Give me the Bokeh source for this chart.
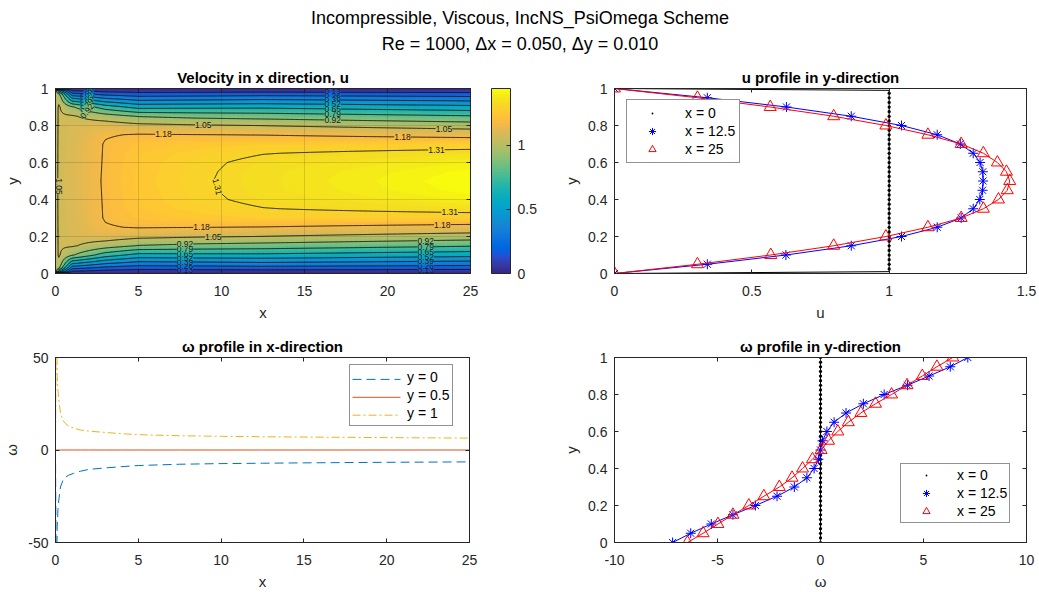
import numpy as np
from bokeh.plotting import figure
from bokeh.models import (Range1d, LinearAxis, FixedTicker, ColorBar, LinearColorMapper,
                          CustomJSTickFormatter, Legend, LegendItem)
from bokeh.layouts import column, row
from bokeh.embed import file_html
from bokeh.resources import INLINE
from bokeh.core.properties import value

# ---------------------------------------------------------------- texts
SUPTITLE_1 = "Incompressible, Viscous, IncNS_PsiOmega Scheme"
SUPTITLE_2 = "Re = 1000, \u0394x = 0.050, \u0394y = 0.010"

# ---------------------------------------------------------------- u profiles in y (top right)
y_prof = [0.00, 0.05, 0.10, 0.15, 0.20, 0.25, 0.30, 0.35, 0.40, 0.45, 0.50,
          0.55, 0.60, 0.65, 0.70, 0.75, 0.80, 0.85, 0.90, 0.95, 1.00]
u_x12 = [0.000, 0.338, 0.624, 0.862, 1.045, 1.175, 1.262, 1.306, 1.330, 1.340, 1.342,
         1.341, 1.331, 1.306, 1.259, 1.175, 1.045, 0.862, 0.626, 0.338, 0.000]
u_x25 = [0.000, 0.302, 0.569, 0.798, 0.988, 1.141, 1.262, 1.343, 1.398, 1.430, 1.439,
         1.427, 1.394, 1.343, 1.262, 1.141, 0.988, 0.798, 0.567, 0.302, 0.000]
# inlet profile x = 0 (uniform, zero on the walls)
u_x0_line = [0.0, 1.0, 1.0, 0.0]
y_x0_line = [0.00, 0.01, 0.99, 1.00]
y_x0_dots = [round(0.025 * k, 3) for k in range(41)]
u_x0_dots = [0.0] + [1.0] * 39 + [0.0]

# ---------------------------------------------------------------- omega profiles in y (bottom right)
w_x12 = [-7.18, -6.30, -5.30, -4.25, -3.16, -2.11, -1.27, -0.66, -0.31, -0.10, 0.00,
         0.10, 0.31, 0.66, 1.24, 2.08, 3.09, 4.22, 5.27, 6.30, 7.15]
w_x25 = [-6.46, -5.70, -4.98, -4.25, -3.48, -2.75, -2.00, -1.38, -0.87, -0.39, 0.03,
         0.39, 0.84, 1.35, 1.96, 2.67, 3.45, 4.20, 4.94, 5.65, 6.42]
w_x0_dots = [0.0] * 41
w_x0_line = [0.0, 0.0]
y_w0_line = [0.0, 1.0]

# ---------------------------------------------------------------- omega profiles in x (bottom left)
x_w = [0, 0.05, 0.1, 0.15, 0.2, 0.3, 0.45, 0.6, 0.8, 1.1, 1.5, 2, 3, 4, 5,
       7.5, 10, 12.5, 15, 20, 25]
w_y0 = [0, -90, -42, -32, -27, -20, -16.5, -14.7, -13.6, -12.6, -11.5, -10.5, -9.7,
        -9.0, -8.4, -7.7, -7.35, -7.15, -6.95, -6.65, -6.42]
w_y05 = [0] * 21
w_y1 = [0, 90, 40, 32, 27, 20, 16.0, 14.3, 12.9, 11.8, 10.8, 10.2, 9.5,
        8.8, 8.3, 7.7, 7.4, 7.15, 7.0, 6.7, 6.42]

# ---------------------------------------------------------------- u field stations (lower half, mirrored)
st_x = [0.0, 0.2, 1.0, 3.0, 5.0, 8.5]
st_y = [
    [0.0, 0.01, 0.5],
    [0.0, 0.01, 0.03, 0.05, 0.10, 0.5],
    [0.0, 0.01, 0.05, 0.10, 0.15, 0.20, 0.5],
    [0.0, 0.05, 0.10, 0.15, 0.20, 0.25, 0.30, 0.5],
    [0.0, 0.05, 0.10, 0.15, 0.20, 0.25, 0.30, 0.35, 0.40, 0.5],
    [0.0, 0.05, 0.10, 0.15, 0.20, 0.25, 0.30, 0.35, 0.40, 0.5],
]
st_u = [
    [0.0, 1.00, 1.00],
    [0.0, 0.60, 0.95, 1.01, 1.06, 1.07],
    [0.0, 0.11, 0.50, 0.93, 1.06, 1.09, 1.10],
    [0.0, 0.37, 0.72, 0.98, 1.11, 1.17, 1.185, 1.19],
    [0.0, 0.31, 0.61, 0.91, 1.08, 1.185, 1.22, 1.235, 1.24, 1.245],
    [0.0, 0.32, 0.62, 0.88, 1.06, 1.18, 1.245, 1.275, 1.29, 1.298],
]
u_levels = [0.1309, 0.2618, 0.3927, 0.5236, 0.6545, 0.7854, 0.9163, 1.0472, 1.1781, 1.3090]
u_color_max = 1.44

# ---------------------------------------------------------------- styles
FONT = "Liberation Sans"
AX = "#262626"
C_BLUE, C_ORANGE, C_YELLOW = "#0072BD", "#D95319", "#EDB120"
PARULA_RGB = [
    (0.2081, 0.1663, 0.5292), (0.2116, 0.1898, 0.5777), (0.2123, 0.2138, 0.6270), (0.2081, 0.2386, 0.6771),
    (0.1959, 0.2645, 0.7279), (0.1707, 0.2919, 0.7792), (0.1253, 0.3242, 0.8303), (0.0591, 0.3598, 0.8683),
    (0.0117, 0.3875, 0.8820), (0.0060, 0.4086, 0.8828), (0.0165, 0.4266, 0.8786), (0.0329, 0.4430, 0.8720),
    (0.0498, 0.4586, 0.8641), (0.0629, 0.4737, 0.8554), (0.0723, 0.4887, 0.8467), (0.0779, 0.5040, 0.8384),
    (0.0793, 0.5200, 0.8312), (0.0749, 0.5375, 0.8263), (0.0641, 0.5570, 0.8240), (0.0488, 0.5772, 0.8228),
    (0.0343, 0.5966, 0.8199), (0.0265, 0.6137, 0.8135), (0.0239, 0.6287, 0.8038), (0.0231, 0.6418, 0.7913),
    (0.0228, 0.6535, 0.7768), (0.0267, 0.6642, 0.7607), (0.0384, 0.6743, 0.7436), (0.0590, 0.6838, 0.7254),
    (0.0843, 0.6928, 0.7062), (0.1133, 0.7015, 0.6859), (0.1453, 0.7098, 0.6646), (0.1801, 0.7177, 0.6424),
    (0.2178, 0.7250, 0.6193), (0.2586, 0.7317, 0.5954), (0.3022, 0.7376, 0.5712), (0.3482, 0.7424, 0.5473),
    (0.3953, 0.7459, 0.5244), (0.4420, 0.7481, 0.5033), (0.4871, 0.7491, 0.4840), (0.5300, 0.7491, 0.4661),
    (0.5709, 0.7485, 0.4494), (0.6099, 0.7473, 0.4337), (0.6473, 0.7456, 0.4188), (0.6834, 0.7435, 0.4044),
    (0.7184, 0.7411, 0.3905), (0.7525, 0.7384, 0.3768), (0.7858, 0.7356, 0.3633), (0.8185, 0.7327, 0.3498),
    (0.8507, 0.7299, 0.3360), (0.8824, 0.7274, 0.3217), (0.9139, 0.7258, 0.3063), (0.9450, 0.7261, 0.2886),
    (0.9739, 0.7314, 0.2666), (0.9938, 0.7455, 0.2403), (0.9990, 0.7653, 0.2164), (0.9955, 0.7861, 0.1967),
    (0.9880, 0.8066, 0.1794), (0.9789, 0.8271, 0.1633), (0.9697, 0.8481, 0.1475), (0.9626, 0.8705, 0.1309),
    (0.9589, 0.8949, 0.1132), (0.9598, 0.9218, 0.0948), (0.9661, 0.9514, 0.0755), (0.9763, 0.9831, 0.0538),
]
PARULA = ["#%02x%02x%02x" % tuple(int(round(c * 255)) for c in rgb) for rgb in PARULA_RGB]

num_fmt = CustomJSTickFormatter(code="return String(Math.round(tick*1000)/1000)")
empty_fmt = CustomJSTickFormatter(code="return ''")


def make_fig(w, h, xr, yr, left, right, top, bottom):
    return figure(width=w, height=h, x_range=Range1d(*xr), y_range=Range1d(*yr),
                  output_backend="svg", toolbar_location=None,
                  min_border_left=left, min_border_right=right,
                  min_border_top=top, min_border_bottom=bottom)


def style(p, xticks, yticks, xlabel, ylabel, title, box_right=True):
    p.title.text = title
    p.title.align = "center"
    p.title.text_font = FONT
    p.title.text_font_size = "15px"
    p.title.text_font_style = "bold"
    p.title.text_color = "#000000"
    p.title.standoff = 6
    for ax, ticks, lab, std in ((p.xaxis[0], xticks, xlabel, 12), (p.yaxis[0], yticks, ylabel, 7)):
        ax.ticker = FixedTicker(ticks=ticks)
        ax.formatter = num_fmt
        ax.axis_label = lab
        ax.axis_label_text_font = FONT
        ax.axis_label_text_font_size = "15px"
        ax.axis_label_text_font_style = "normal"
        ax.axis_label_text_color = AX
        ax.major_label_text_font = FONT
        ax.major_label_text_font_size = "14px"
        ax.major_label_text_color = AX
        ax.major_tick_in = 4
        ax.major_tick_out = 0
        ax.minor_tick_line_color = None
        ax.axis_line_color = AX
        ax.major_tick_line_color = AX
        ax.major_label_standoff = std
        ax.axis_label_standoff = 5
    p.outline_line_color = AX
    p.grid.grid_line_color = None
    p.background_fill_color = "white"
    p.border_fill_color = "white"
    sides = [("above", xticks)]
    if box_right:
        sides.append(("right", yticks))
    for side, ticks in sides:
        ax = LinearAxis(ticker=FixedTicker(ticks=ticks), formatter=empty_fmt,
                        major_tick_in=4, major_tick_out=0, minor_tick_line_color=None,
                        axis_line_color=AX, major_tick_line_color=AX,
                        major_label_standoff=0, major_label_text_font_size="1px")
        p.add_layout(ax, side)


def legend(p, items, loc, glyph_w, standoff, pad, bg_alpha=1.0):
    lg = Legend(items=[LegendItem(label=l, renderers=r) for l, r in items], location=loc,
                orientation="vertical", margin=0, padding=pad, spacing=0,
                label_height=18, glyph_height=18, glyph_width=glyph_w, label_standoff=standoff,
                label_text_font=FONT, label_text_font_size="14px", label_text_color="#000000",
                border_line_color=AX, border_line_width=1, background_fill_color="white",
                background_fill_alpha=bg_alpha)
    p.add_layout(lg)
    return lg


# ---------------------------------------------------------------- suptitle
pt = figure(width=1039, height=62, x_range=Range1d(0, 1039), y_range=Range1d(0, 62),
            output_backend="svg", toolbar_location=None, min_border=0,
            x_axis_type=None, y_axis_type=None)
pt.outline_line_color = None
pt.grid.visible = False
pt.text(x=[519.5, 519.5], y=[45, 19], text=[SUPTITLE_1, SUPTITLE_2],
        text_align="center", text_baseline="middle", text_font=value(FONT),
        text_font_size="18px", text_color="#000000")

# ---------------------------------------------------------------- u field (top left)
yg = np.linspace(0, 1, 201)
xg = np.linspace(0, 25, 501)
cols = []
for yl, ul in zip(st_y, st_u):
    yfull = list(yl) + [1 - v for v in reversed(yl[:-1])]
    ufull = list(ul) + list(reversed(ul[:-1]))
    cols.append(np.interp(yg, yfull, ufull))
cols.append(np.interp(yg, y_prof, u_x12))
cols.append(np.interp(yg, y_prof, u_x25))
all_x = st_x + [12.5, 25.0]
C = np.array(cols)
Z = np.empty((len(yg), len(xg)))
for i in range(len(yg)):
    Z[i] = np.interp(xg, all_x, C[:, i])

mapper = LinearColorMapper(palette=PARULA, low=0, high=u_color_max)
p1 = make_fig(560, 268, (0, 25), (0, 1), 55, 90, 26, 57)
p1.image(image=[Z], x=0, y=0, dw=25, dh=1, color_mapper=mapper)
p1.contour(x=xg, y=yg, z=Z, levels=u_levels, line_color="#111111", line_width=0.9)
style(p1, [0, 5, 10, 15, 20, 25], [0, 0.2, 0.4, 0.6, 0.8, 1], "x", "y",
      "Velocity in x direction, u")
p1.grid.grid_line_color = "#000000"
p1.grid.grid_line_alpha = 0.13
p1.grid.level = "overlay"

cb = ColorBar(color_mapper=mapper, ticker=FixedTicker(ticks=[0, 0.5, 1]), formatter=num_fmt,
              width=19, height=185, padding=0, margin=0, location=(21, 0),
              major_tick_in=4, major_tick_out=0, major_tick_line_color=AX,
              bar_line_color=AX, border_line_color=None, background_fill_alpha=0,
              major_label_text_font=FONT, major_label_text_font_size="14px",
              major_label_text_color=AX, label_standoff=7)
p1.add_layout(cb, "right")


def level_y(xq, lv, upper):
    j = int(round(xq / 25 * (len(xg) - 1)))
    col = Z[:, j]
    if upper:
        m = yg >= 0.5
        return float(np.interp(lv, col[m][::-1], yg[m][::-1]))
    m = yg <= 0.5
    return float(np.interp(lv, col[m], yg[m]))


def lvl_text(lv):
    return "%.2f" % lv


def lvl_color(lv):
    return PARULA[min(63, int(lv / u_color_max * 64))]


lab_x, lab_y, lab_t, lab_c, lab_a = [], [], [], [], []


def add_label(x, y, lv, ang=0.0):
    lab_x.append(x); lab_y.append(y); lab_t.append(lvl_text(lv))
    lab_c.append(lvl_color(lv)); lab_a.append(ang)


for lv, xq, up in ((1.1781, 6.5, True), (1.1781, 8.8, False), (1.0472, 8.9, True),
                   (1.0472, 9.5, False), (1.1781, 20.9, True), (1.0472, 23.4, True),
                   (1.3090, 22.95, True), (1.3090, 23.75, False), (1.1781, 23.3, False)):
    add_label(xq, level_y(xq, lv, up), lv)
add_label(0.2, 0.47, 1.0472, -np.pi / 2)
add_label(9.75, 0.47, 1.3090, -1.35)
for lv in u_levels[:7]:
    add_label(1.9, level_y(1.9, lv, True), lv, 0.9)
    add_label(7.8, level_y(7.8, lv, False), lv)
    add_label(16.7, level_y(16.7, lv, True), lv)
    add_label(22.3, level_y(22.3, lv, False), lv)

p1.text(x=lab_x, y=lab_y, text=lab_t, angle=lab_a, text_align="center",
        text_baseline="middle", text_font=value(FONT), text_font_size="8.5px",
        text_color="#1a1a1a", background_fill_color=lab_c)

# ---------------------------------------------------------------- u profile (top right)
p2 = make_fig(479, 268, (0, 1.5), (0, 1), 51, 13, 26, 57)
p2.line(u_x0_line, y_x0_line, line_color="black", line_width=1)
r_d0 = p2.scatter(u_x0_dots, y_x0_dots, marker="dot", size=13, color="black")
p2.line(u_x12, y_prof, line_color="blue", line_width=1)
r_s12 = p2.scatter(u_x12, y_prof, marker="asterisk", size=10, line_color="blue", line_width=1)
p2.line(u_x25, y_prof, line_color="red", line_width=1)
r_s25 = p2.scatter(u_x25, y_prof, marker="triangle", size=12, line_color="red",
                   fill_color=None, line_width=1)
style(p2, [0, 0.5, 1, 1.5], [0, 0.2, 0.4, 0.6, 0.8, 1], "u", "y", "u profile in y-direction")
legend(p2, [("x = 0", [r_d0]), ("x = 12.5", [r_s12]), ("x = 25", [r_s25])],
       (12, 110), 42, 12, 4)

# ---------------------------------------------------------------- omega along x (bottom left)
P3_W, P3_H, P3_L, P3_R, P3_T, P3_B = 560, 262, 55, 91, 27, 49
p3 = make_fig(P3_W, P3_H, (0, 25), (-50, 50), P3_L, P3_R, P3_T, P3_B)
p3.line(x_w, w_y0, line_color=C_BLUE, line_width=1, line_dash="9 5")
p3.line(x_w, w_y05, line_color=C_ORANGE, line_width=1)
p3.line(x_w, w_y1, line_color=C_YELLOW, line_width=1, line_dash="8 3 2 3")
style(p3, [0, 5, 10, 15, 20, 25], [-50, 0, 50], "x", "\u03c9", "\u03c9 profile in x-direction")
# legend: labels and box from the library; line samples drawn beneath its transparent box
ghost = p3.scatter(x=[0], y=[0], marker="dot", size=0, alpha=0)
LEG_X, LEG_BOTTOM, LEG_PAD, LEG_ROW, LEG_GW = 294, 116, 3, 18, 48
legend(p3, [("y = 0", [ghost]), ("y = 0.5", [ghost]), ("y = 1", [ghost])],
       (LEG_X, LEG_BOTTOM), LEG_GW, 6, LEG_PAD, bg_alpha=0.0)
fw = P3_W - P3_L - P3_R
fh = P3_H - P3_T - P3_B
xr3, yr3 = p3.x_range, p3.y_range
leg_top = LEG_BOTTOM + 2 * LEG_PAD + 3 * LEG_ROW
sx0 = xr3.start + (xr3.end - xr3.start) * (LEG_X + LEG_PAD) / fw
sx1 = xr3.start + (xr3.end - xr3.start) * (LEG_X + LEG_PAD + LEG_GW) / fw
for k, (col, dash) in enumerate(((C_BLUE, "9 5"), (C_ORANGE, "solid"), (C_YELLOW, "8 3 2 3"))):
    sy = yr3.start + (yr3.end - yr3.start) * (leg_top - LEG_PAD - LEG_ROW * k - LEG_ROW / 2) / fh
    p3.segment(x0=[sx0], y0=[sy], x1=[sx1], y1=[sy], line_color=col, line_width=1, line_dash=dash)

# ---------------------------------------------------------------- omega along y (bottom right)
p4 = make_fig(479, 262, (-10, 10), (0, 1), 52, 13, 27, 49)
p4.line(w_x0_line, y_w0_line, line_color="black", line_width=1)
q_d0 = p4.scatter(w_x0_dots, y_x0_dots, marker="dot", size=13, color="black")
p4.line(w_x12, y_prof, line_color="blue", line_width=1)
q_s12 = p4.scatter(w_x12, y_prof, marker="asterisk", size=10, line_color="blue", line_width=1)
p4.line(w_x25, y_prof, line_color="red", line_width=1)
q_s25 = p4.scatter(w_x25, y_prof, marker="triangle", size=12, line_color="red",
                   fill_color=None, line_width=1)
style(p4, [-10, -5, 0, 5, 10], [0, 0.2, 0.4, 0.6, 0.8, 1], "\u03c9", "y", "\u03c9 profile in y-direction")
legend(p4, [("x = 0", [q_d0]), ("x = 12.5", [q_s12]), ("x = 25", [q_s25])],
       (286, 19), 46, 8, 2)

layout = column(pt, row(p1, p2), row(p3, p4))
open("out.html", "w").write(file_html(layout, INLINE))
